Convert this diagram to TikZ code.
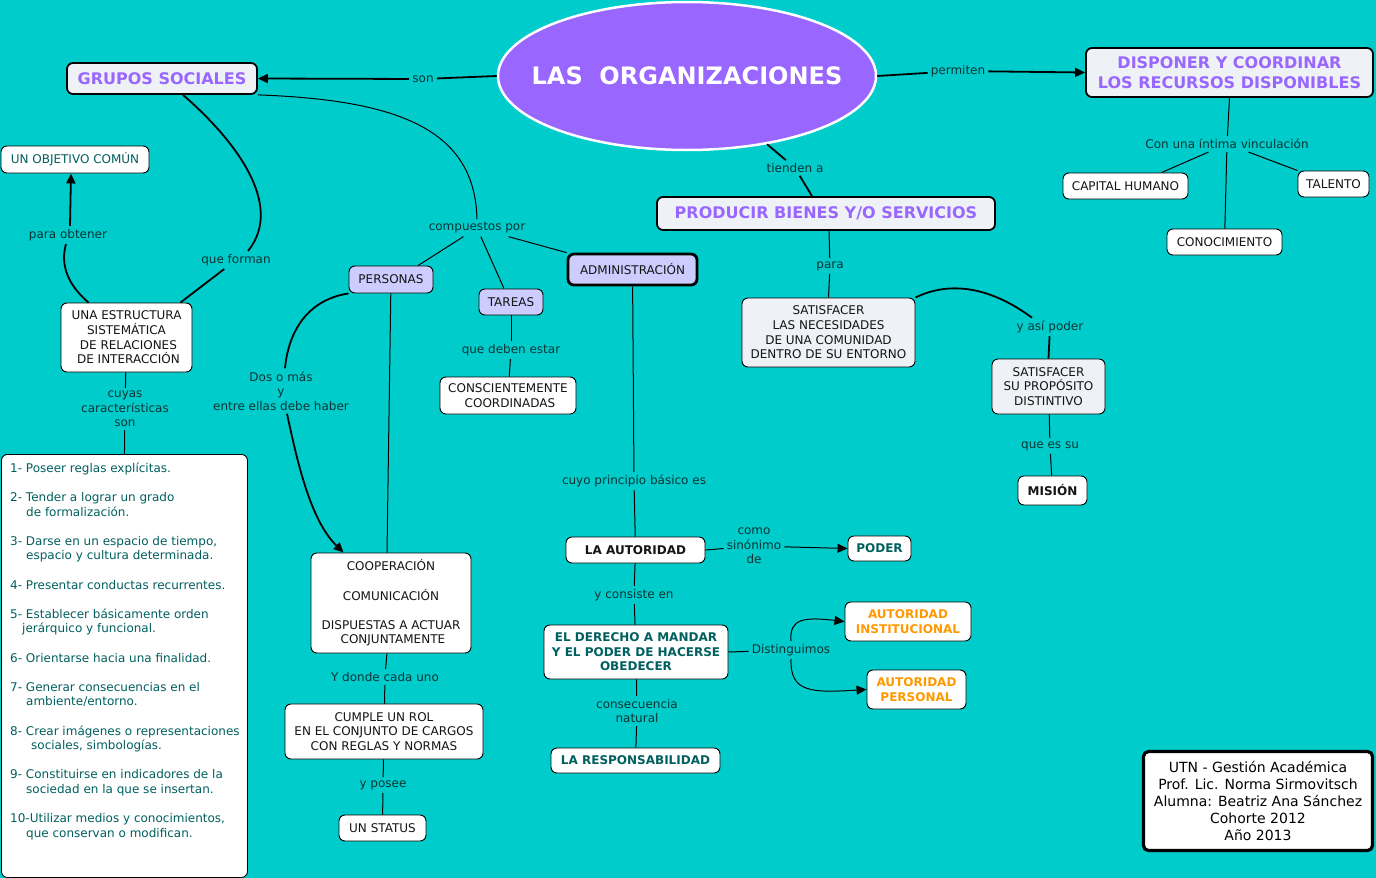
\documentclass[tikz,border=0pt]{standalone}
\usepackage{fontspec}
\setmainfont{DejaVu Sans}
\usetikzlibrary{arrows.meta,shapes.geometric,calc}
\definecolor{bgc}{RGB}{0,204,204}
\definecolor{purp}{RGB}{153,102,255}
\definecolor{tfill}{RGB}{238,242,246}
\definecolor{lav}{RGB}{204,204,255}
\definecolor{tealt}{RGB}{0,95,95}
\definecolor{labc}{RGB}{12,52,52}
\definecolor{orng}{RGB}{255,153,0}
\definecolor{inkc}{RGB}{20,20,20}
\tikzset{
  box/.style={draw=black, line width=0.9pt, rounded corners=6pt, fill=white, text=inkc,
    align=center, inner sep=2pt, font=\fontsize{12}{14.6}\selectfont},
  tbox/.style={box, line width=1.8pt, fill=tfill, text=purp, font=\fontsize{16}{20}\selectfont\bfseries},
  lbox/.style={box, fill=lav},
  sbox/.style={box, fill=tfill},
  bbox/.style={box, font=\fontsize{12}{14.6}\selectfont\bfseries},
  tlbox/.style={bbox, text=tealt},
  obox/.style={bbox, text=orng},
  lab/.style={text=labc, align=center, inner sep=3pt, font=\fontsize{12}{14.6}\selectfont},
  conn/.style={draw=black, line width=1pt},
  tconn/.style={draw=black, line width=1.8pt},
  arr/.style={-{Triangle[length=10pt,width=9pt]}},
}
\begin{document}
\begin{tikzpicture}[x=1pt,y=-1pt]
\fill[bgc] (0,0) rectangle (1376,878);
\useasboundingbox (0,0) rectangle (1376,878);

% main ellipse
\node[ellipse, draw=white, line width=2.5pt, fill=purp, text=white, minimum width=378, minimum height=148,
  inner xsep=-30pt, inner ysep=0pt, font=\fontsize{24}{28}\selectfont\bfseries] (org) at (687,76) {LAS\ \ ORGANIZACIONES};

% title boxes
\node[tbox, minimum width=190, minimum height=31] (gs) at (162,78.5) {GRUPOS SOCIALES};
\node[tbox, minimum width=287, minimum height=49] (disp) at (1229.5,72.5) {DISPONER Y COORDINAR\\LOS RECURSOS DISPONIBLES};
\node[tbox, minimum width=338, minimum height=33] (prod) at (826,213.5) {PRODUCIR BIENES Y/O SERVICIOS};

% right upper
\node[box, minimum width=125, minimum height=26] (cap) at (1125.5,186) {CAPITAL HUMANO};
\node[box, minimum width=71, minimum height=26] (tal) at (1333.5,184) {TALENTO};
\node[box, minimum width=115, minimum height=26] (conoc) at (1224.5,242) {CONOCIMIENTO};

\node[sbox, minimum width=173, minimum height=69] (satnec) at (828.5,332.5) {SATISFACER\\LAS NECESIDADES\\DE UNA COMUNIDAD\\DENTRO DE SU ENTORNO};
\node[sbox, minimum width=113, minimum height=55] (satprop) at (1048.5,386.5) {SATISFACER\\SU PROPÓSITO\\DISTINTIVO};
\node[bbox, minimum width=69, minimum height=29] (mision) at (1052.5,490.5) {MISIÓN};

% left
\node[box, text=tealt, minimum width=148, minimum height=27] (obj) at (75,159.5) {UN OBJETIVO COMÚN};
\node[box, minimum width=131, minimum height=69] (estr) at (126.5,337.5) {UNA ESTRUCTURA\\SISTEMÁTICA\\\ DE RELACIONES\\\ DE INTERACCIÓN};
\node[box, minimum width=246, minimum height=423, anchor=north west] (lista) at (1,454) {};
\node[anchor=north west, inner sep=0pt, align=left, text=tealt, font=\fontsize{12}{14.6}\selectfont] (listatxt) at (10,462.5)
{1- Poseer reglas explícitas.\\[14.6pt]
2- Tender a lograr un grado\\\hspace*{16pt}de formalización.\\[14.6pt]
3- Darse en un espacio de tiempo,\\\hspace*{16pt}espacio y cultura determinada.\\[14.6pt]
4- Presentar conductas recurrentes.\\[14.6pt]
5- Establecer básicamente orden\\\hspace*{12pt}jerárquico y funcional.\\[14.6pt]
6- Orientarse hacia una finalidad.\\[14.6pt]
7- Generar consecuencias en el\\\hspace*{16pt}ambiente/entorno.\\[14.6pt]
8- Crear imágenes o representaciones\\\hspace*{21pt}sociales, simbologías.\\[14.6pt]
9- Constituirse en indicadores de la\\\hspace*{16pt}sociedad en la que se insertan.\\[14.6pt]
10-Utilizar medios y conocimientos,\\\hspace*{16pt}que conservan o modifican.};

% middle
\node[lbox, minimum width=84, minimum height=27] (pers) at (391,279.5) {PERSONAS};
\node[lbox, minimum width=64, minimum height=26] (tareas) at (511,302) {TAREAS};
\node[lbox, line width=2.8pt, minimum width=129, minimum height=31] (admin) at (632.5,269.5) {ADMINISTRACIÓN};
\node[box, minimum width=136, minimum height=37] (consc) at (508,395.5) {CONSCIENTEMENTE\\\ COORDINADAS};
\node[box, minimum width=160, minimum height=100] (coop) at (391,603) {COOPERACIÓN\\[14.6pt]COMUNICACIÓN\\[14.6pt]DISPUESTAS A ACTUAR\\\ CONJUNTAMENTE};
\node[box, minimum width=198, minimum height=55] (cumple) at (384,731.5) {CUMPLE UN ROL\\EN EL CONJUNTO DE CARGOS\\CON REGLAS Y NORMAS};
\node[box, minimum width=87, minimum height=26] (status) at (382.5,828) {UN STATUS};

\node[bbox, minimum width=139, minimum height=26] (aut) at (635.5,550) {LA AUTORIDAD};
\node[tlbox, minimum width=63, minimum height=25] (poder) at (879.5,548.5) {PODER};
\node[tlbox, minimum width=184, minimum height=54] (der) at (636,652) {EL DERECHO A MANDAR\\Y EL PODER DE HACERSE\\OBEDECER};
\node[obox, minimum width=126, minimum height=39] (inst) at (908,621.5) {AUTORIDAD\\INSTITUCIONAL};
\node[obox, minimum width=99, minimum height=39] (persa) at (916.5,689.5) {AUTORIDAD\\PERSONAL};
\node[tlbox, minimum width=169, minimum height=25] (resp) at (635.5,760.5) {LA RESPONSABILIDAD};

\node[box, line width=3.2pt, rounded corners=5pt, minimum width=229, minimum height=99, text=black,
  font=\fontsize{14}{17}\selectfont] (cred) at (1258,801) {UTN - Gestión Académica\\Prof. Lic. Norma Sirmovitsch\\Alumna: Beatriz Ana Sánchez\\Cohorte 2012\\Año 2013};

% labels
\node[lab] (lson) at (423,79) {son};
\node[lab] (lperm) at (958,71) {permiten};
\node[lab] (lvinc) at (1227,144) {Con una íntima vinculación};
\node[lab] (ltien) at (795,168) {tienden a};
\node[lab] (lpara) at (830,266) {para};
\node[lab] (lasi) at (1050,327) {y así poder};
\node[lab] (lque) at (1050,446) {que es su};
\node[lab] (lforman) at (236,260) {que forman};
\node[lab] (lobt) at (68,235) {para obtener};
\node[lab] (lcuyas) at (125,409) {cuyas\\características\\son};
\node[lab] (lcomp) at (477,228) {compuestos por};
\node[lab] (ldeben) at (511,350) {que deben estar};
\node[lab] (ldos) at (281,391) {Dos o más\\y\\entre ellas debe haber};
\node[lab] (ldonde) at (385,677) {Y donde cada uno};
\node[lab] (lposee) at (383,785) {y posee};
\node[lab] (lcuyo) at (634,481) {cuyo principio básico es};
\node[lab] (lcomo) at (754,546) {como\\sinónimo\\de};
\node[lab] (lcons) at (634,595) {y consiste en};
\node[lab] (ldist) at (791,650) {Distinguimos};
\node[lab] (lnat) at (637,711) {consecuencia\\natural};

% connectors
\draw[tconn] (org.west) -- (lson);
\draw[tconn,arr] (lson) -- (gs.east);
\draw[tconn] (org.east) -- (lperm);
\draw[tconn,arr] (lperm) -- (disp.west);
\draw[conn] (disp.south) -- (lvinc);
\draw[conn] (lvinc) -- ([xshift=36]cap.north);
\draw[conn] (lvinc) -- (tal.north west);
\draw[conn] (lvinc) -- (conoc);
\draw[tconn] (org) -- (ltien);
\draw[tconn] (ltien) -- ([xshift=-14]prod.north);
\draw[conn] ([xshift=3]prod.south) -- (lpara);
\draw[conn] (lpara) -- (satnec.north);
\draw[tconn] (satnec.north east) .. controls (945,283) and (985,283) .. ([xshift=-18]lasi.north);
\draw[tconn] (lasi) -- (satprop.north);
\draw[conn] (satprop) -- (lque);
\draw[conn] (lque) -- (mision);

\draw[tconn] ([xshift=21]gs.south) .. controls (235,140) and (285,205) .. ([xshift=12]lforman.north);
\draw[tconn] (lforman) -- ([xshift=-12]estr.north east);
\draw[tconn] ([xshift=-38]estr.north) .. controls (68,285) and (60,265) .. ([xshift=-2]lobt.south);
\draw[tconn,arr] ([xshift=2]lobt.north) -- ([xshift=-4]obj.south);
\draw[conn] (estr) -- (lcuyas);
\draw[conn] (lcuyas) -- (lista.north);

\draw[conn] (gs.south east) .. controls (400,100) and (475,130) .. (lcomp.north);
\draw[conn] (lcomp) -- ([xshift=27]pers.north);
\draw[conn] (lcomp) -- ([xshift=-7]tareas.north);
\draw[conn] (lcomp) -- (admin.north west);
\draw[conn] (tareas) -- (ldeben);
\draw[conn] (ldeben) -- (consc);
\draw[conn] (pers) -- ([xshift=-4]coop.north);
\draw[tconn] (pers.south west) .. controls (305,300) and (288,335) .. ([xshift=4]ldos.north);
\draw[tconn,arr] ([xshift=6]ldos.south) .. controls (297,460) and (310,520) .. ([xshift=33]coop.north west);
\draw[conn] (coop) -- (ldonde);
\draw[conn] (ldonde) -- (cumple);
\draw[conn] (cumple) -- (lposee);
\draw[conn] (lposee) -- (status);

\draw[conn] (admin) -- (lcuyo);
\draw[conn] (lcuyo) -- (aut);
\draw[conn] (aut.east) -- (lcomo);
\draw[conn,arr] (lcomo) -- (poder.west);
\draw[conn] (aut) -- (lcons);
\draw[conn] (lcons) -- (der);
\draw[conn] (der.east) -- (ldist);
\draw[conn,arr] (ldist.north) .. controls (789,618) and (805,617) .. (inst.west);
\draw[conn,arr] (ldist.south) .. controls (790,692) and (810,693) .. (persa.west);
\draw[conn] (der) -- (lnat);
\draw[conn] (lnat) -- (resp);
\end{tikzpicture}
\end{document}
